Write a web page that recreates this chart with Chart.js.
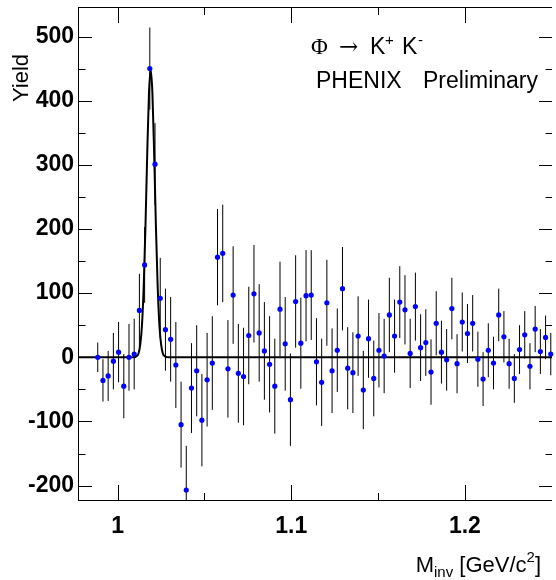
<!DOCTYPE html>
<html>
<head>
<meta charset="utf-8">
<script src="https://cdn.jsdelivr.net/npm/chart.js@4.4.1/dist/chart.umd.min.js"></script>
<style>
html, body { margin: 0; padding: 0; background: #fff; }
#wrap { width: 556px; height: 580px; }
</style>
</head>
<body>
<div id="wrap"><canvas id="phiChart" width="556" height="580"></canvas></div>
<script>
// invariant mass bins [GeV/c^2]
var mass = [0.9885,0.9915,0.9945,0.9975,1.0005,1.0035,1.0065,1.0095,1.0125,1.0155,
  1.0185,1.0215,1.0245,1.0275,1.0305,1.0335,1.0365,1.0395,1.0425,1.0455,
  1.0485,1.0515,1.0545,1.0575,1.0605,1.0635,1.0665,1.0695,1.0725,1.0755,
  1.0785,1.0815,1.0845,1.0875,1.0905,1.0935,1.0965,1.0995,1.1025,1.1055,
  1.1085,1.1115,1.1145,1.1175,1.1205,1.1235,1.1265,1.1295,1.1325,1.1355,
  1.1385,1.1415,1.1445,1.1475,1.1505,1.1535,1.1565,1.1595,1.1625,1.1655,
  1.1685,1.1715,1.1745,1.1775,1.1805,1.1835,1.1865,1.1895,1.1925,1.1955,
  1.1985,1.2015,1.2045,1.2075,1.2105,1.2135,1.2165,1.2195,1.2225,1.2255,
  1.2285,1.2315,1.2345,1.2375,1.2405,1.2435,1.2465,1.2495];

// background subtracted yield
var yieldVals = [0,-36,-29,-6,8,-45,0,5,73,144,
  450,301,92,43,28,-12,-105,-207,-48,-21,
  -98,-35,-9,156,162,-18,97,-25,-30,34,
  99,38,10,-11,-45,75,21,-66,87,22,
  96,97,-7,-39,85,-21,11,107,-17,-24,
  33,-51,29,-33,11,2,66,33,86,74,
  6,79,15,23,-23,53,8,-4,76,-10,
  55,37,53,-3,-34,11,-9,66,32,-10,
  -33,12,35,-14,44,9,31,5];

var yieldErr = [23,33,39,44,47,50,52,55,57,59,
  64,64,63,64,66,67,67,69,70,71,
  72,73,73,75,76,76,76,77,76,76,
  76,76,76,75,74,74,73,72,72,71,
  71,70,68,68,67,66,65,65,64,63,
  62,61,61,59,58,58,58,57,56,54,
  54,53,52,52,51,50,49,48,48,46,
  46,46,44,43,42,42,41,41,40,39,
  38,38,37,36,36,35,34,33];

// fit curve
var fitX = [0.9777,1.009,1.011,1.012,1.013,1.014,1.015,1.016,1.017,1.018,1.019,
  1.020,1.021,1.022,1.023,1.024,1.025,1.026,1.027,1.029,1.2502];
var fitY = [0,0,2,6,20,51,112,205,317,411,448,
  411,317,205,112,51,20,6,2,0,0];

var xTicks = [1, 1.1, 1.2];
var xMinorTicks = [1.05, 1.15];
var yTicks = [-200, -100, 0, 100, 200, 300, 400, 500];
var yMinorTicks = [-150, -50, 50, 150, 250, 350, 450];

var sans = '"Liberation Sans", Arial, sans-serif';
var serif = '"Liberation Serif", "DejaVu Serif", serif';

function drawPieces(c, x, y, pieces) {
  pieces.forEach(function(p) {
    c.font = p.font;
    c.fillText(p.t, x, y + (p.dy || 0));
    x += c.measureText(p.t).width;
  });
}
function piecesWidth(c, pieces) {
  var w = 0;
  pieces.forEach(function(p) { c.font = p.font; w += c.measureText(p.t).width; });
  return w;
}

var rootFrame = {
  id: 'rootFrame',
  beforeDatasetsDraw: function(chart) {
    var c = chart.ctx, a = chart.chartArea;
    var xs = chart.scales.x, ys = chart.scales.y;
    c.save();
    c.beginPath();
    c.rect(a.left, a.top, a.right - a.left, a.bottom - a.top);
    c.clip();
    c.strokeStyle = '#000';
    c.lineWidth = 1;
    for (var i = 0; i < mass.length; i++) {
      var px = xs.getPixelForValue(mass[i]);
      c.beginPath();
      c.moveTo(px, ys.getPixelForValue(yieldVals[i] - yieldErr[i]));
      c.lineTo(px, ys.getPixelForValue(yieldVals[i] + yieldErr[i]));
      c.stroke();
    }
    c.restore();
  },
  afterDatasetsDraw: function(chart) {
    var c = chart.ctx, a = chart.chartArea;
    var xs = chart.scales.x, ys = chart.scales.y;
    c.save();
    c.strokeStyle = '#000';
    c.lineWidth = 1;
    c.beginPath();
    c.moveTo(a.left - 0.5, a.top + 0.5);
    c.lineTo(a.right, a.top + 0.5);
    c.moveTo(a.left - 0.5, a.top);
    c.lineTo(a.left - 0.5, a.bottom);
    c.moveTo(a.left - 0.5, a.bottom - 0.5);
    c.lineTo(a.right, a.bottom - 0.5);
    // ticks point inward on all four sides
    function xt(v, len) {
      var p = Math.round(xs.getPixelForValue(v)) + 0.5;
      c.moveTo(p, a.bottom); c.lineTo(p, a.bottom - len);
      c.moveTo(p, a.top); c.lineTo(p, a.top + len);
    }
    function yt(v, len) {
      var p = Math.round(ys.getPixelForValue(v)) + 0.5;
      c.moveTo(a.left, p); c.lineTo(a.left + len, p);
      c.moveTo(a.right, p); c.lineTo(a.right - len, p);
    }
    xTicks.forEach(function(v) { xt(v, 16); });
    xMinorTicks.forEach(function(v) { xt(v, 8); });
    yTicks.forEach(function(v) { yt(v, 13); });
    yMinorTicks.forEach(function(v) { yt(v, 6.5); });
    c.stroke();
    c.restore();
  },
  afterDraw: function(chart) {
    var c = chart.ctx;
    c.save();
    c.fillStyle = '#000';
    c.textBaseline = 'alphabetic';
    c.textAlign = 'left';
    // decay label
    c.font = '23px ' + serif;
    c.fillText('\u03A6', 311, 54);
    c.font = '23px "DejaVu Serif", serif';
    c.fillText('\u2192', 339, 54);
    c.font = '23px ' + sans;
    c.fillText('K', 370, 54);
    c.fillText('K', 402, 54);
    c.font = '15px ' + sans;
    c.fillText('+', 385, 45);
    c.fillText('-', 418, 45);
    // experiment label
    c.font = '23px ' + sans;
    c.fillText('PHENIX', 316, 88);
    c.fillText('Preliminary', 423, 88);
    // x title
    var xt = [
      {t: 'M', font: '22px ' + sans},
      {t: 'inv', font: '15px ' + sans, dy: 5},
      {t: ' [GeV/c', font: '22px ' + sans},
      {t: '2', font: '15px ' + sans, dy: -10},
      {t: ']', font: '22px ' + sans}
    ];
    drawPieces(c, 541 - piecesWidth(c, xt), 572, xt);
    // y title
    c.translate(28, 54);
    c.rotate(-Math.PI / 2);
    c.textAlign = 'right';
    c.font = '22px ' + sans;
    c.fillText('Yield', 0, 0);
    c.restore();
  }
};

var ctx = document.getElementById('phiChart').getContext('2d');
var phiChart = new Chart(ctx, {
  type: 'scatter',
  data: {
    datasets: [{
      label: 'K+K- pairs',
      data: mass.map(function(m, i) { return {x: m, y: yieldVals[i]}; }),
      backgroundColor: 'rgb(0, 0, 255)',
      borderWidth: 0,
      pointRadius: 2.6,
      clip: false,
      order: 0
    }, {
      label: 'fit',
      data: fitX.map(function(m, i) { return {x: m, y: fitY[i]}; }),
      showLine: true,
      borderColor: '#000',
      borderWidth: 2,
      pointRadius: 0,
      cubicInterpolationMode: 'monotone',
      order: 1
    }]
  },
  options: {
    responsive: false,
    animation: false,
    layout: { padding: { top: 7, left: 0, right: 0, bottom: 0 } },
    plugins: {
      legend: { display: false },
      tooltip: { enabled: false }
    },
    scales: {
      x: {
        type: 'linear',
        min: 0.9777,
        max: 1.2502,
        grid: { display: false, drawTicks: false },
        border: { display: false },
        afterBuildTicks: function(s) { s.ticks = xTicks.map(function(v) { return {value: v}; }); },
        afterFit: function(s) { s.height = 79; s.paddingLeft = 0; s.paddingRight = 0; },
        ticks: {
          color: '#000',
          padding: 12,
          maxRotation: 0,
          font: { family: sans, size: 23, weight: 'bold' },
          callback: function(v) { return String(v); }
        }
      },
      y: {
        type: 'linear',
        min: -224,
        max: 546,
        grid: { display: false, drawTicks: false },
        border: { display: false },
        afterBuildTicks: function(s) { s.ticks = yTicks.map(function(v) { return {value: v}; }); },
        afterFit: function(s) { s.width = 79; s.paddingTop = 0; s.paddingBottom = 0; },
        ticks: {
          color: '#000',
          padding: 5,
          font: { family: sans, size: 23, weight: 'bold' },
          callback: function(v) { return String(v); }
        }
      }
    }
  },
  plugins: [rootFrame]
});
</script>
</body>
</html>
